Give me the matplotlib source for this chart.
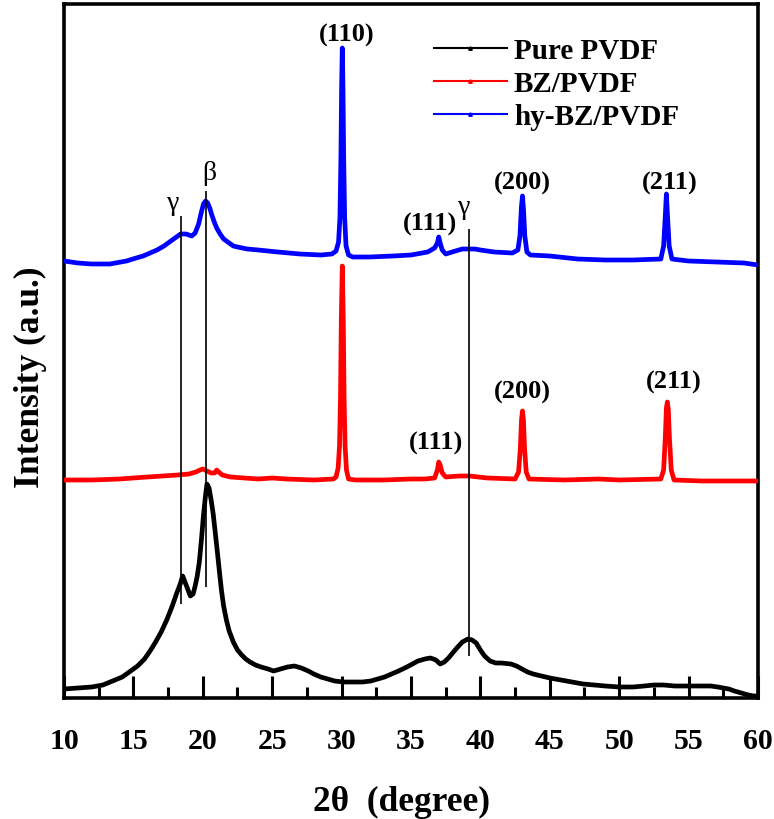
import numpy as np
import matplotlib
matplotlib.use('Agg')
import matplotlib.pyplot as plt
from matplotlib.lines import Line2D
from matplotlib.ticker import MultipleLocator

plt.rcParams['font.family'] = 'Liberation Serif'
plt.rcParams['font.weight'] = 'bold'

# XRD patterns, stacked (a.u.)
two_theta_pure = [10.0, 11.0, 12.0, 12.8, 13.5, 14.2, 14.8, 15.3, 15.8, 16.2, 16.6, 17.0, 17.4, 17.8,
                  18.1, 18.35, 18.55, 18.8, 19.1, 19.3, 19.45, 19.6, 19.75, 19.9, 20.05, 20.2, 20.3,
                  20.45, 20.6, 20.75, 20.9, 21.05, 21.2, 21.35, 21.5, 21.7, 21.9, 22.2, 22.5, 22.8,
                  23.1, 23.4, 23.8, 24.2, 24.7, 25.1, 25.6, 26.1, 26.6, 27.1, 27.6, 28.0, 28.5, 29.0,
                  29.5, 30.1, 30.8, 31.5, 32.1, 32.6, 33.1, 33.6, 34.1, 34.7, 35.1, 35.5, 36.0, 36.4,
                  36.8, 37.1, 37.4, 37.7, 38.0, 38.3, 38.7, 39.1, 39.4, 39.7, 40.0, 40.3, 40.7, 41.1,
                  41.5, 42.2, 42.6, 43.0, 43.4, 43.8, 44.4, 45.0, 45.8, 46.6, 47.4, 48.2, 49.0, 50.0,
                  51.0, 51.8, 52.5, 53.2, 54.0, 54.8, 55.5, 56.1, 56.6, 57.1, 57.5, 57.9, 58.3, 58.8,
                  59.3, 59.7, 60.0]
int_pure = [9, 10, 11, 13, 17, 21, 27, 32, 39, 47, 56, 66, 78, 92,
            104, 113, 122, 113, 102, 104, 112, 122, 136, 158, 183, 203, 214,
            210, 198, 184, 165, 146, 126, 107, 92, 78, 67, 56, 48, 43,
            39, 36, 33, 31, 29, 27, 29, 31, 32, 30, 27, 24, 21, 19,
            17, 16, 16, 16, 17, 19, 21, 24, 27, 31, 34, 37, 39, 40,
            38, 34, 36, 40, 45, 50, 56, 59, 58, 55, 48, 42, 37, 35,
            35, 34, 32, 29, 26, 24, 22, 20, 18, 16, 14, 13, 12, 11,
            11, 12, 13, 13, 12, 12, 12, 12, 12, 11, 10, 9, 7, 5,
            3, 2, 2]

two_theta_bz = [10.0, 12.0, 14.0, 16.0, 18.2, 19.0, 19.5, 19.8, 20.0, 20.3, 20.6, 20.85, 21.0, 21.15,
                21.4, 22.0, 23.0, 24.0, 25.0, 26.0, 28.0, 29.4, 29.6, 29.75, 29.85, 29.92, 29.98,
                30.05, 30.12, 30.18, 30.25, 30.35, 30.5, 31.0, 33.0, 35.0, 36.0, 36.7, 36.9, 37.0,
                37.1, 37.25, 37.5, 38.5, 39.2, 40.5, 42.5, 42.75, 42.88, 42.96, 43.03, 43.1, 43.18,
                43.3, 43.5, 46.0, 48.5, 50.0, 53.0, 53.2, 53.32, 53.4, 53.47, 53.54, 53.62, 53.75,
                53.95, 56.0, 58.0, 60.0]
int_bz = [218, 218, 219, 221, 223, 224, 226, 228, 229, 227, 225, 225, 228, 226,
          223, 221, 220, 219, 220, 219, 218, 219, 221, 230, 252, 300, 380,
          432, 380, 300, 252, 228, 219, 218, 218, 219, 219, 220, 228, 236,
          233, 225, 221, 222, 222, 220, 219, 226, 250, 278, 287, 278, 250,
          226, 219, 218, 219, 218, 219, 228, 260, 290, 296, 288, 260, 228,
          218, 217, 217, 217]

two_theta_hy = [10.0, 11.0, 12.0, 13.3, 14.5, 15.2, 15.7, 16.2, 16.7, 17.2, 17.6, 18.0, 18.4, 18.8,
                19.2, 19.45, 19.7, 19.9, 20.05, 20.2, 20.35, 20.5, 20.65, 20.8, 21.0, 21.25, 21.5,
                21.8, 22.2, 22.5, 23.2, 24.0, 25.4, 27.0, 28.5, 29.3, 29.6, 29.78, 29.88, 29.95,
                30.0, 30.05, 30.1, 30.15, 30.22, 30.32, 30.5, 30.8, 32.0, 33.7, 35.0, 36.2, 36.7,
                36.9, 37.0, 37.1, 37.25, 37.5, 38.2, 38.7, 39.1, 39.6, 40.0, 41.0, 42.3, 42.7,
                42.85, 42.95, 43.03, 43.1, 43.2, 43.35, 43.6, 45.0, 47.0, 49.0, 51.0, 53.0, 53.2,
                53.32, 53.4, 53.48, 53.6, 53.8, 55.0, 57.0, 59.0, 60.0]
int_hy = [437, 435, 434, 434, 437, 440, 442, 445, 448, 452, 456, 460, 464, 464,
          462, 465, 474, 486, 494, 497, 495, 490, 483, 477, 470, 464, 459,
          456, 452, 451, 449, 448, 446, 444, 443, 444, 447, 456, 480, 540,
          610, 650, 610, 540, 480, 452, 443, 441, 441, 442, 443, 446, 450,
          455, 461, 455, 448, 444, 447, 449, 449, 449, 448, 446, 445, 448,
          462, 490, 502, 490, 462, 446, 443, 442, 439, 438, 438, 439, 452,
          482, 504, 482, 452, 439, 437, 436, 435, 433]

# phase marker lines: position, bottom, top
phase_pos = [18.4, 20.2, 39.2]
phase_lo = [94, 111, 42]
phase_hi = [482, 507, 469]
phase_txt = ['γ', 'β', 'γ']
phase_txt_xy = [(17.9, 496), (20.5, 526), (38.8, 491)]

# (hkl) labels
hkl_txt = ['(110)', '(111)', '(200)', '(211)', '(111)', '(200)', '(211)']
hkl_xy = [(30.4, 664), (36.4, 475), (43.0, 516), (53.65, 516),
          (36.8, 256), (43.0, 307), (53.9, 317)]

fig = plt.figure(figsize=(7.74, 8.20), dpi=100)
ax = fig.add_axes([64 / 774, 1 - 699 / 820, 694 / 774, 694 / 820])

lw = 3.4
ax.plot(two_theta_pure, int_pure, color='black', lw=lw, zorder=3)
ax.plot(two_theta_bz, int_bz, color='#ff0000', lw=lw, zorder=3)
ax.plot(two_theta_hy, int_hy, color='#0000ff', lw=lw, zorder=3)

ax.vlines(phase_pos, phase_lo, phase_hi, color='black', lw=1.2, zorder=4)
for t, (x, y) in zip(phase_txt, phase_txt_xy):
    ax.text(x, y, t, fontsize=20, fontweight='normal', ha='center', va='center')
for t, (x, y) in zip(hkl_txt, hkl_xy):
    ax.text(x, y, t, fontsize=19, fontweight='bold', ha='center', va='center')

handles = [Line2D([], [], color=c, lw=1.5, marker='^', markersize=2.5)
           for c in ['black', '#ff0000', '#0000ff']]
ax.legend(handles, ['Pure PVDF', 'BZ/PVDF', 'hy-BZ/PVDF'], loc='upper left',
          bbox_to_anchor=(0.495, 0.99), frameon=False,
          prop={'size': 21, 'weight': 'bold'},
          handlelength=2.5, handletextpad=0.25, labelspacing=0.2)

ax.set_xlim(10, 60)
ax.set_ylim(0, 694)
ax.xaxis.set_major_locator(MultipleLocator(5))
ax.xaxis.set_minor_locator(MultipleLocator(2.5))
ax.tick_params(axis='x', which='major', direction='in', length=16, width=2.2,
               labelsize=21.5, pad=21)
ax.tick_params(axis='x', which='minor', direction='in', length=8, width=2.2)
for lbl in ax.get_xticklabels():
    lbl.set_fontweight('bold')
ax.set_yticks([])
for s in ax.spines.values():
    s.set_linewidth(2.6)

ax.set_xlabel('2θ  (degree)', fontsize=25.5, fontweight='bold')
ax.set_ylabel('Intensity (a.u.)', fontsize=25.5, fontweight='bold')
ax.xaxis.set_label_coords(0.486, -0.125)
ax.yaxis.set_label_coords(-0.025, 0.464)

fig.savefig('out.png', dpi=100)
